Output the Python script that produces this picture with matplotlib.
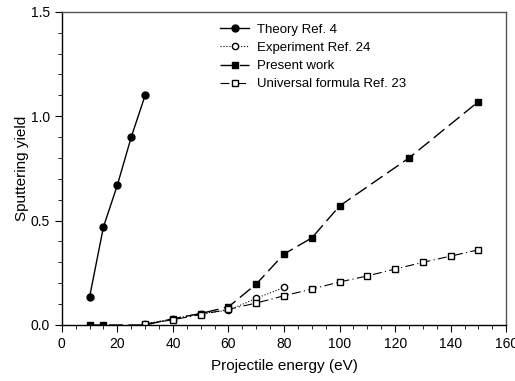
import matplotlib.pyplot as plt
from matplotlib.ticker import MultipleLocator

plt.rcParams['font.family'] = ['Liberation Sans', 'DejaVu Sans']

theory_e = [10, 15, 20, 25, 30]
theory_y = [0.134, 0.47, 0.67, 0.90, 1.10]

exp_e = [30, 40, 50, 60, 70, 80]
exp_y = [0.005, 0.03, 0.055, 0.07, 0.128, 0.18]

present_e = [10, 15, 30, 40, 50, 60, 70, 80, 90, 100, 125, 150]
present_y = [0.0, 0.0, 0.0, 0.03, 0.055, 0.087, 0.196, 0.34, 0.417, 0.57, 0.80, 1.07]

univ_e = [30, 40, 50, 60, 70, 80, 90, 100, 110, 120, 130, 140, 150]
univ_y = [0.005, 0.025, 0.05, 0.075, 0.105, 0.14, 0.172, 0.206, 0.235, 0.268, 0.30, 0.33, 0.36]

fig = plt.figure(figsize=(5.15, 3.81), dpi=100)
ax = fig.add_axes([0.120, 0.147, 0.863, 0.822])

ax.plot(theory_e, theory_y, color='black', linestyle='-', linewidth=1.0,
        marker='o', markersize=5, label='Theory Ref. 4')
ax.plot(exp_e, exp_y, color='black', linestyle=':', linewidth=0.8,
        marker='o', markersize=4.5, markerfacecolor='white', label='Experiment Ref. 24')
ax.plot(present_e, present_y, color='black', linestyle=(0, (10, 4)), linewidth=1.0,
        marker='s', markersize=5, label='Present work')
ax.plot(univ_e, univ_y, color='black', linestyle=(0, (8, 3, 1, 3)), linewidth=0.8,
        marker='s', markersize=5, markerfacecolor='white', label='Universal formula Ref. 23')

ax.set_xlim(0, 160)
ax.set_ylim(0, 1.5)
ax.xaxis.set_major_locator(MultipleLocator(20))
ax.xaxis.set_minor_locator(MultipleLocator(5))
ax.yaxis.set_major_locator(MultipleLocator(0.5))
ax.yaxis.set_minor_locator(MultipleLocator(0.1))
ax.yaxis.set_major_formatter(plt.FormatStrFormatter('%.1f'))
ax.tick_params(which='both', direction='out', top=False, right=False, labelsize=10)
ax.tick_params(which='major', length=5)
ax.tick_params(which='minor', length=3)
for s in ax.spines.values():
    s.set_linewidth(1.0)
ax.spines['top'].set_color('#555555')
ax.spines['right'].set_color('#555555')

ax.set_xlabel('Projectile energy (eV)', fontsize=11, labelpad=6)
ax.set_ylabel('Sputtering yield', fontsize=11, labelpad=1)

ax.legend(loc='upper left', bbox_to_anchor=(0.33, 1.0), frameon=False, fontsize=9.5,
          handlelength=2.2, handletextpad=0.6, labelspacing=0.45)

fig.savefig('out.png', dpi=100)
